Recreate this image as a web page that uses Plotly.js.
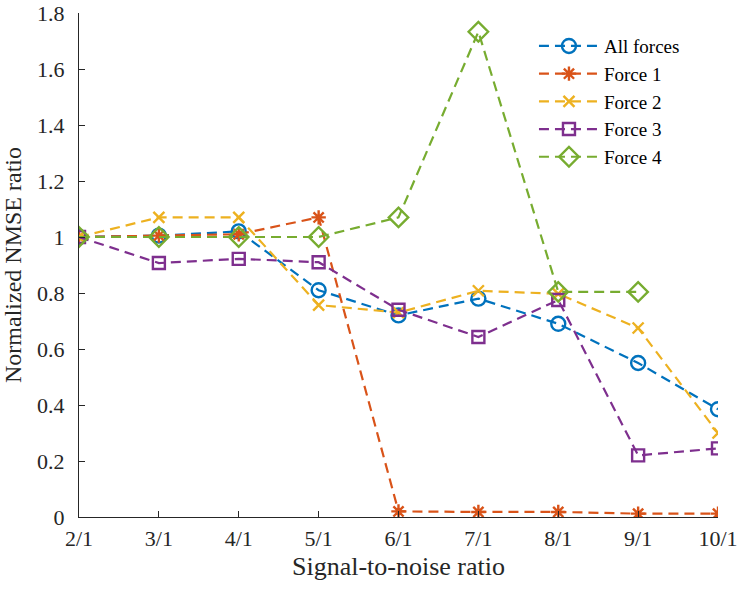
<!DOCTYPE html>
<html><head><meta charset="utf-8">
<script src="https://cdn.plot.ly/plotly-3.0.1.min.js"></script>
<style>body{margin:0;padding:0;background:#fff}#plot{width:740px;height:590px}</style>
</head><body><div id="plot"></div>
<script>
const categories = ["2/1","3/1","4/1","5/1","6/1","7/1","8/1","9/1","10/1"];
const allForces = [1.0, 1.005, 1.02, 0.81, 0.72, 0.78, 0.69, 0.55, 0.385];
const force1 = [1.0, 1.005, 1.01, 1.07, 0.02, 0.018, 0.018, 0.012, 0.012];
const force2 = [1.0, 1.07, 1.07, 0.757, 0.73, 0.808, 0.797, 0.675, 0.30];
const force3 = [1.0, 0.907, 0.922, 0.91, 0.74, 0.643, 0.775, 0.22, 0.245];
const force4 = [1.0, 1.0, 1.0, 1.0, 1.07, 1.733, 0.804, 0.804, null];
const seriesNames = ["All forces","Force 1","Force 2","Force 3","Force 4"];
const yTickVals = [0, 0.2, 0.4, 0.6, 0.8, 1, 1.2, 1.4, 1.6, 1.8];
const yTickText = ["0","0.2","0.4","0.6","0.8","1","1.2","1.4","1.6","1.8"];

const colors = ["#0072BD","#D95319","#EDB120","#7E2F8E","#77AC30"];
const symbols = ["circle-open","asterisk-open","x-thin-open","square-open","diamond-open"];
const sizes = [14, 12, 11, 12, 15];
const data = [allForces, force1, force2, force3, force4];

const traces = data.map((ys, i) => ({
  x: categories, y: ys, name: seriesNames[i], type: "scatter", mode: "lines+markers",
  line: {color: colors[i], width: 2.2, dash: "10px,6px"},
  marker: {symbol: symbols[i], size: sizes[i], color: colors[i], line: {color: colors[i], width: 2.4}},
  connectgaps: false
}));

const fam = "Liberation Serif";
const layout = {
  width: 740, height: 590,
  margin: {l: 79, r: 22, t: 13, b: 73},
  paper_bgcolor: "#fff", plot_bgcolor: "#fff",
  font: {family: fam, size: 22, color: "#262626"},
  showlegend: true,
  legend: {x: 0.712, y: 0.972, xanchor: "left", yanchor: "top", bgcolor: "rgba(0,0,0,0)",
           font: {family: fam, size: 19, color: "#000"}, tracegroupgap: 0, itemwidth: 60},
  xaxis: {
    type: "category", range: [0, 8], showgrid: false, zeroline: false,
    showline: true, linecolor: "#262626", linewidth: 1,
    ticks: "inside", ticklen: 6, tickcolor: "#262626", ticklabelstandoff: 2,
    ticklabeloverflow: "allow",
    tickfont: {family: fam, size: 22, color: "#262626"},
    title: {text: "Signal-to-noise ratio", font: {family: fam, size: 26, color: "#262626"}, standoff: 6}
  },
  yaxis: {
    range: [0, 1.8], tickmode: "array", tickvals: yTickVals, ticktext: yTickText,
    showgrid: false, zeroline: false,
    showline: true, linecolor: "#262626", linewidth: 1,
    ticks: "inside", ticklen: 6, tickcolor: "#262626", ticklabelstandoff: 9,
    ticklabeloverflow: "allow",
    tickfont: {family: fam, size: 22, color: "#262626"},
    title: {text: "Normalized NMSE ratio", font: {family: fam, size: 24, color: "#262626"}, standoff: 8}
  }
};
Plotly.newPlot("plot", traces, layout, {displayModeBar: false, staticPlot: true});
</script></body></html>
